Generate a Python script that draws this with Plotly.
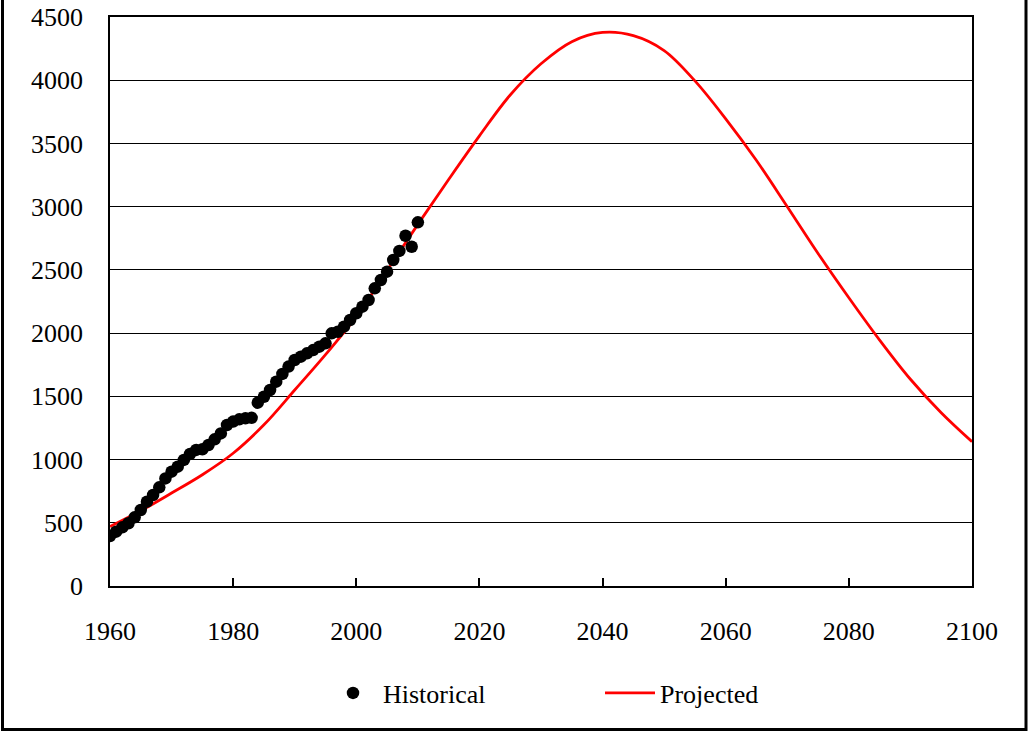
import plotly.graph_objects as go

# Historical annual values, 1960-2010
hist_years = list(range(1960, 2011))
hist_values = [
    395, 430, 464, 496, 543, 601, 667, 720, 780, 851,
    904, 944, 997, 1044, 1076, 1081, 1115, 1160, 1207, 1273,
    1300, 1318, 1326, 1330, 1450, 1497, 1550, 1616, 1677, 1735,
    1787, 1814, 1840, 1866, 1893, 1919, 1998, 2011, 2051, 2104,
    2157, 2209, 2262, 2354, 2420, 2486, 2578, 2650, 2770, 2683,
    2876,
]

# Projected curve, every 5 years 1960-2100
proj_years = list(range(1960, 2101, 5))
proj_values = [
    470, 595, 735, 880, 1050, 1275, 1550, 1830, 2130, 2495,
    2860, 3215, 3560, 3883, 4130, 4305, 4378, 4353, 4235, 3995,
    3695, 3365, 3000, 2630, 2280, 1945, 1635, 1370, 1141,
]

x_ticks = list(range(1960, 2101, 20))
y_ticks = list(range(0, 4501, 500))

FONT = "Liberation Serif"
FSIZE = 26

fig = go.Figure()
fig.add_trace(go.Scatter(
    x=proj_years, y=proj_values, mode="lines", name="Projected",
    line=dict(color="#ff0000", width=2.75, shape="spline", smoothing=1),
))
fig.add_trace(go.Scatter(
    x=hist_years, y=hist_values, mode="markers", name="Historical",
    marker=dict(color="black", size=12.5, line=dict(width=0)),
))

W, H = 1029, 732
L, R, T, B = 110, 972, 17, 586
pw, ph = R - L, B - T

def px_x(px):
    return (px - L) / pw

def px_y(py):
    return (B - py) / ph

fig.update_layout(
    width=W, height=H,
    margin=dict(l=L, r=W - R, t=T, b=H - B, pad=0, autoexpand=False),
    paper_bgcolor="white", plot_bgcolor="white",
    font=dict(family=FONT, size=FSIZE, color="black"),
    showlegend=True,
    legend=dict(
        orientation="h", traceorder="reversed",
        x=px_x(323), xanchor="left", y=px_y(693), yanchor="middle",
        itemwidth=50, entrywidthmode="pixels", entrywidth=212,
        font=dict(family=FONT, size=FSIZE, color="black"),
        bgcolor="rgba(0,0,0,0)", borderwidth=0,
    ),
    xaxis=dict(
        range=[1960, 2100], tickvals=x_ticks, ticktext=[str(v) for v in x_ticks],
        ticks="inside", ticklen=8, tickwidth=1.5, tickcolor="black",
        showgrid=False, zeroline=False, automargin=False,
        showline=True, linecolor="black", linewidth=1.5, mirror=True,
        ticklabelstandoff=21,
        tickfont=dict(family=FONT, size=FSIZE, color="black"),
    ),
    yaxis=dict(
        range=[0, 4500], tickvals=y_ticks, ticktext=[str(v) for v in y_ticks],
        ticks="", showgrid=True, gridcolor="black", gridwidth=1.2,
        zeroline=False, automargin=False,
        showline=True, linecolor="black", linewidth=1.5, mirror=True,
        ticklabelstandoff=20,
        tickfont=dict(family=FONT, size=FSIZE, color="black"),
    ),
    shapes=[
        # outer frame around the whole chart
        dict(type="rect", xref="paper", yref="paper",
             x0=px_x(2.5), x1=px_x(1026), y0=px_y(729.5), y1=px_y(-10),
             line=dict(color="black", width=3), fillcolor="rgba(0,0,0,0)",
             layer="above"),
    ],
)

fig.write_html("out.html")
